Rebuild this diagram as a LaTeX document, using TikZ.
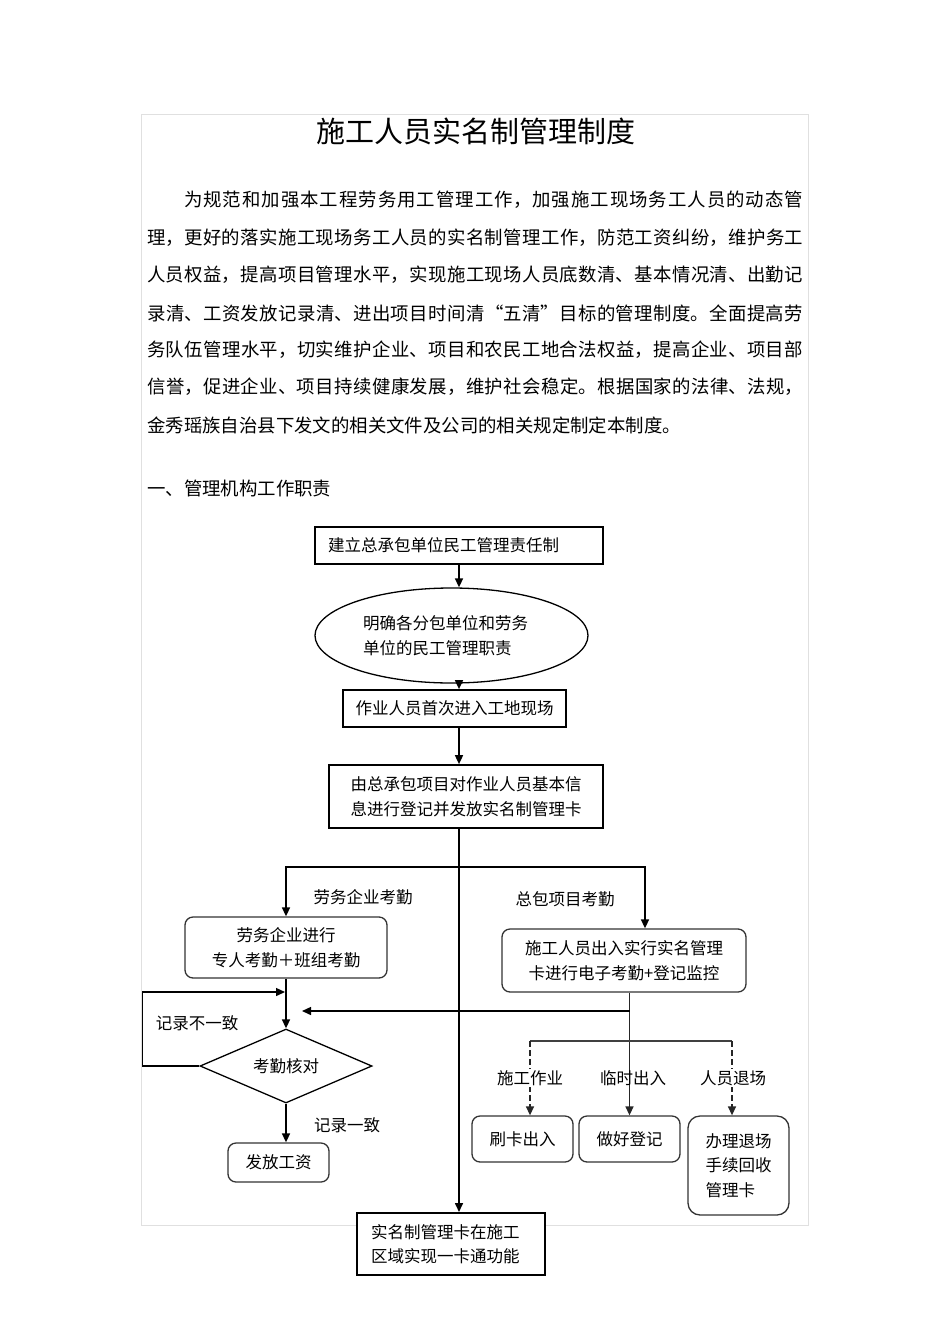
\documentclass[tikz,border=0pt]{standalone}
\usepackage{fontspec}
\setmainfont{Noto Sans CJK SC}
\usetikzlibrary{arrows.meta,shapes.geometric}
\XeTeXlinebreaklocale "zh"
\XeTeXlinebreakskip=0pt plus 4pt
\newcommand{\fs}{\fontsize{16.5}{24.5}\selectfont}
\newcommand{\bodyfs}{\fontsize{18.4}{37.5}\selectfont}
\newcommand{\jline}[1]{\parbox{656pt}{\bodyfs\parindent=0pt\parfillskip=0pt\relax #1}}
\newcommand{\lline}[1]{\parbox{656pt}{\bodyfs\parindent=0pt\relax #1}}
\tikzset{
  box/.style={draw, line width=1.7pt, fill=white, inner sep=0pt, font=\fs},
  rbox/.style={draw=black!80, line width=1.3pt, rounded corners=8pt, fill=white, inner sep=0pt, font=\fs},
  arr/.style={-{Triangle[length=9pt,width=8pt]}, line width=1.6pt},
  lab/.style={inner sep=1pt, font=\fs},
  bodytxt/.style={anchor=west, inner sep=0pt},
}
\begin{document}
\begin{tikzpicture}[x=1pt,y=-1pt]
\useasboundingbox (0,0) rectangle (950,1344);
% page frame
\draw[black!12, line width=0.8pt] (141.5,114.5) rectangle (808,1225);
% title and text
\node (title) at (475.5,131) {\fontsize{29}{29}\selectfont 施工人员实名制管理制度};
\node[bodytxt] (p1) at (147,200) {\jline{\hspace*{2em}为规范和加强本工程劳务用工管理工作，加强施工现场务工人员的动态管}};
\node[bodytxt] (p2) at (147,238) {\jline{理，更好的落实施工现场务工人员的实名制管理工作，防范工资纠纷，维护务工}};
\node[bodytxt] (p3) at (147,275) {\jline{人员权益，提高项目管理水平，实现施工现场人员底数清、基本情况清、出勤记}};
\node[bodytxt] (p4) at (147,313) {\jline{录清、工资发放记录清、进出项目时间清“五清”目标的管理制度。全面提高劳}};
\node[bodytxt] (p5) at (147,350) {\jline{务队伍管理水平，切实维护企业、项目和农民工地合法权益，提高企业、项目部}};
\node[bodytxt] (p6) at (147,387) {\jline{信誉，促进企业、项目持续健康发展，维护社会稳定。根据国家的法律、法规，}};
\node[bodytxt] (p7) at (147,425) {\lline{金秀瑶族自治县下发文的相关文件及公司的相关规定制定本制度。}};
\node[bodytxt] (h1) at (147,488) {\bodyfs 一、管理机构工作职责};
% flowchart nodes
\node[box, minimum width=288pt, minimum height=37pt, text width=262pt, align=left] (b1) at (459,545.5) {建立总承包单位民工管理责任制};
\node[draw, line width=1.3pt, ellipse, fill=white, minimum width=273pt, minimum height=95pt, inner sep=0pt, text width=177pt, align=left, font=\fs] (e1) at (451.5,635.5) {明确各分包单位和劳务\\单位的民工管理职责};
\node[box, minimum width=223pt, minimum height=37pt] (b3) at (454.5,708.5) {作业人员首次进入工地现场};
\node[box, minimum width=274pt, minimum height=63pt, align=center] (b4) at (466,796.5) {由总承包项目对作业人员基本信\\息进行登记并发放实名制管理卡};
\node[rbox, minimum width=202pt, minimum height=61pt, align=center] (b5) at (286,947.5) {劳务企业进行\\专人考勤＋班组考勤};
\node[rbox, minimum width=244pt, minimum height=63pt, align=center] (b6) at (624,960.5) {施工人员出入实行实名管理\\卡进行电子考勤+登记监控};
\node[draw, line width=1.3pt, diamond, aspect=2.32, fill=white, minimum width=172pt, minimum height=74pt, inner sep=0pt, font=\fs] (d1) at (286,1066) {考勤核对};
\node[rbox, minimum width=101pt, minimum height=39pt] (b7) at (278.5,1162.5) {发放工资};
\node[box, line width=2pt, minimum width=188pt, minimum height=62pt, text width=160pt, align=left] (b8) at (451,1244) {实名制管理卡在施工\\区域实现一卡通功能};
\node[rbox, minimum width=101pt, minimum height=46pt] (b9) at (522.5,1139) {刷卡出入};
\node[rbox, minimum width=101pt, minimum height=46pt] (b10) at (629.5,1139) {做好登记};
\node[rbox, rounded corners=12pt, minimum width=101pt, minimum height=99pt, align=left] (b11) at (738.5,1165.5) {办理退场\\手续回收\\管理卡};
% helper coordinates
\coordinate (j1) at (459,867);
\coordinate (jl) at (286,867);
\coordinate (jr) at (645,867);
\coordinate (lp) at (285,992);
\coordinate (hs) at (629.5,1011);
\coordinate (he) at (302,1011);
\coordinate (bl) at (530,1041);
\coordinate (br) at (732,1041);
% connectors
\draw[arr] (b1.south) -- (b1.south |- e1.north);
\draw[arr] (b1.south |- e1.south) -- (b1.south |- b3.north);
\draw[arr] (b1.south |- b3.south) -- (b1.south |- b4.north);
\draw[arr] (b1.south |- b4.south) -- (b1.south |- b8.north);
\draw[arr] (j1) -- (jl) -- (b5.north);
\draw[arr] (j1) -- (jr) -- (jr |- b6.north);
\draw[arr] (b5.south) -- (d1.north);
\draw[arr] (d1.south) -- (d1.south |- b7.north);
\draw[arr, line width=1.4pt] (d1.west) -- ++(-57,0) |- (lp);
\draw[arr, line width=1.4pt, black!85] (b6.south -| b10.north) -- (b10.north);
\draw[arr, line width=1.4pt] (hs) -- (he);
\draw[line width=1.3pt, black!75] (bl) -- (br);
\draw[arr, line width=1.4pt, black!85, dash pattern=on 6pt off 3pt] (bl) -- (bl |- b9.north);
\draw[arr, line width=1.4pt, black!85, dash pattern=on 6pt off 3pt] (br) -- (br |- b11.north);
% labels
\node[lab] (t1) at (363,897) {劳务企业考勤};
\node[lab] (t2) at (565,899) {总包项目考勤};
\node[lab] (t3) at (197,1023) {记录不一致};
\node[lab] (t4) at (347,1125) {记录一致};
\node[lab, fill=white] (t5) at (530,1078) {施工作业};
\node[lab] (t6) at (633,1078) {临时出入};
\node[lab, fill=white] (t7) at (733,1078) {人员退场};
\end{tikzpicture}
\end{document}
